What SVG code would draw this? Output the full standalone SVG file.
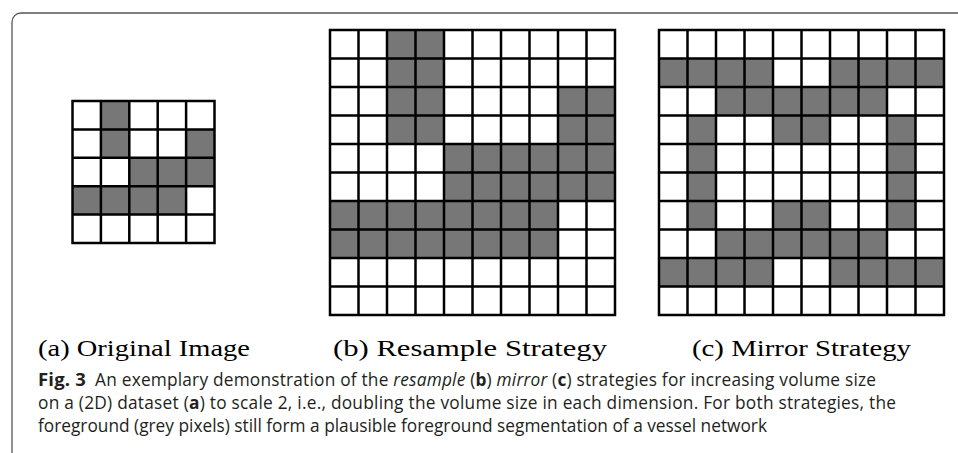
<svg xmlns="http://www.w3.org/2000/svg" width="958" height="453" viewBox="0 0 958 453">
<style>
.g{fill:#777777;stroke:none}
.w{fill:#ffffff;stroke:none}
.ln{fill:none;stroke:#000000;stroke-width:2.5;stroke-linecap:square}
.frame{fill:none;stroke:#555555;stroke-width:1.3}
.lbl{font-family:"Liberation Serif","Times New Roman",serif;font-size:23px;fill:#000000}
.cap{font-family:"Open Sans","Noto Sans",sans-serif;font-size:17.3px;fill:#231f20}
.b{font-weight:bold}
.i{font-style:italic}
</style>
<rect width="958" height="453" fill="#ffffff"/>
<path class="frame" d="M958 13 H21 A9 9 0 0 0 12 22 V453"/>

<g id="grid-a">
<rect class="w" x="72.5" y="101" width="142" height="142"/>
<rect class="g" x="100.9" y="101" width="28.4" height="56.8"/>
<rect class="g" x="186.1" y="129.4" width="28.4" height="56.8"/>
<rect class="g" x="129.3" y="157.8" width="85.2" height="28.4"/>
<rect class="g" x="72.5" y="186.2" width="113.6" height="28.4"/>
<path class="ln" d="M72.5 101 V243 M100.9 101 V243 M129.3 101 V243 M157.7 101 V243 M186.1 101 V243 M214.5 101 V243 M72.5 101 H214.5 M72.5 129.4 H214.5 M72.5 157.8 H214.5 M72.5 186.2 H214.5 M72.5 214.6 H214.5 M72.5 243 H214.5"/>
</g>

<g id="grid-b">
<rect class="w" x="330" y="30" width="285" height="285"/>
<rect class="g" x="387" y="30" width="57" height="114"/>
<rect class="g" x="558" y="87" width="57" height="114"/>
<rect class="g" x="444" y="144" width="171" height="57"/>
<rect class="g" x="330" y="201" width="228" height="57"/>
<path class="ln" d="M330 30 V315 M358.5 30 V315 M387 30 V315 M415.5 30 V315 M444 30 V315 M472.5 30 V315 M501 30 V315 M529.5 30 V315 M558 30 V315 M586.5 30 V315 M615 30 V315 M330 30 H615 M330 58.5 H615 M330 87 H615 M330 115.5 H615 M330 144 H615 M330 172.5 H615 M330 201 H615 M330 229.5 H615 M330 258 H615 M330 286.5 H615 M330 315 H615"/>
</g>

<g id="grid-c">
<rect class="w" x="659" y="30" width="285" height="285"/>
<rect class="g" x="659" y="58.5" width="114" height="28.5"/>
<rect class="g" x="830" y="58.5" width="114" height="28.5"/>
<rect class="g" x="716" y="87" width="171" height="28.5"/>
<rect class="g" x="687.5" y="115.5" width="28.5" height="114"/>
<rect class="g" x="887" y="115.5" width="28.5" height="114"/>
<rect class="g" x="773" y="115.5" width="57" height="28.5"/>
<rect class="g" x="773" y="201" width="57" height="28.5"/>
<rect class="g" x="716" y="229.5" width="171" height="28.5"/>
<rect class="g" x="659" y="258" width="114" height="28.5"/>
<rect class="g" x="830" y="258" width="114" height="28.5"/>
<path class="ln" d="M659 30 V315 M687.5 30 V315 M716 30 V315 M744.5 30 V315 M773 30 V315 M801.5 30 V315 M830 30 V315 M858.5 30 V315 M887 30 V315 M915.5 30 V315 M944 30 V315 M659 30 H944 M659 58.5 H944 M659 87 H944 M659 115.5 H944 M659 144 H944 M659 172.5 H944 M659 201 H944 M659 229.5 H944 M659 258 H944 M659 286.5 H944 M659 315 H944"/>
</g>

<g id="labels">
<text class="lbl" x="38" y="356" textLength="212" lengthAdjust="spacingAndGlyphs">(a) Original Image</text>
<text class="lbl" x="333" y="356" textLength="274" lengthAdjust="spacingAndGlyphs">(b) Resample Strategy</text>
<text class="lbl" x="692" y="356" textLength="219" lengthAdjust="spacingAndGlyphs">(c) Mirror Strategy</text>
</g>

<g id="caption">
<text class="cap" x="38" y="386" textLength="838" lengthAdjust="spacing"><tspan class="b" font-size="18.5px">Fig. 3</tspan><tspan dx="9">An exemplary demonstration of the </tspan><tspan class="i">resample</tspan> (<tspan class="b">b</tspan>) <tspan class="i">mirror</tspan> (<tspan class="b">c</tspan>) strategies for increasing volume size</text>
<text class="cap" x="38" y="409" textLength="858" lengthAdjust="spacing">on a (2D) dataset (<tspan class="b">a</tspan>) to scale 2, i.e., doubling the volume size in each dimension. For both strategies, the</text>
<text class="cap" x="38" y="432" textLength="729" lengthAdjust="spacing">foreground (grey pixels) still form a plausible foreground segmentation of a vessel network</text>
</g>
</svg>
